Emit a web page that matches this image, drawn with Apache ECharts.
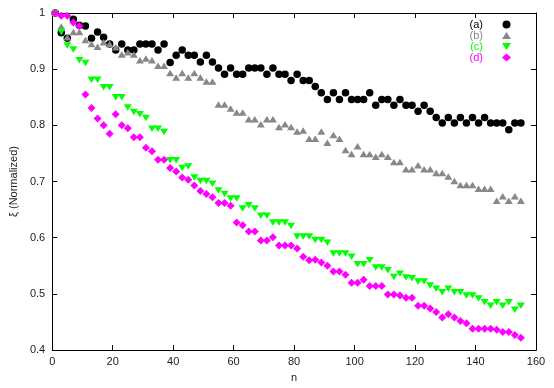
<!DOCTYPE html>
<html>
<head>
<meta charset="utf-8">
<script src="https://cdn.jsdelivr.net/npm/echarts@6/dist/echarts.min.js"></script>
<style>
  html, body { margin: 0; padding: 0; background: #fff; }
  #chart { width: 554px; height: 388px; }
</style>
</head>
<body>
<div id="chart"></div>
<script>
var nValues = [1, 3, 5, 7, 9, 11, 13, 15, 17, 19, 21, 23, 25, 27, 29, 31, 33, 35, 37, 39,
  41, 43, 45, 47, 49, 51, 53, 55, 57, 59, 61, 63, 65, 67, 69, 71, 73, 75, 77, 79,
  81, 83, 85, 87, 89, 91, 93, 95, 97, 99, 101, 103, 105, 107, 109, 111, 113, 115, 117, 119,
  121, 123, 125, 127, 129, 131, 133, 135, 137, 139, 141, 143, 145, 147, 149, 151, 153, 155];

var seriesA = [1.0, 0.965, 0.955, 0.989, 0.978, 0.977, 0.955, 0.966, 0.957, 0.945,
  0.934, 0.945, 0.934, 0.934, 0.945, 0.945, 0.945, 0.934, 0.945, 0.912,
  0.925, 0.934, 0.925, 0.925, 0.913, 0.925, 0.913, 0.902, 0.891, 0.902,
  0.891, 0.891, 0.902, 0.902, 0.902, 0.891, 0.902, 0.891, 0.891, 0.880,
  0.891, 0.880, 0.880, 0.869, 0.858, 0.846, 0.858, 0.846, 0.858, 0.846,
  0.846, 0.846, 0.858, 0.836, 0.846, 0.846, 0.836, 0.846, 0.836, 0.836,
  0.825, 0.836, 0.825, 0.814, 0.804, 0.814, 0.804, 0.814, 0.804, 0.814,
  0.804, 0.814, 0.804, 0.804, 0.804, 0.792, 0.804, 0.804];

var seriesB = [1.0, 0.976, 0.957, 0.966, 0.966, 0.952, 0.945, 0.940, 0.948, 0.945,
  0.939, 0.926, 0.930, 0.926, 0.916, 0.919, 0.916, 0.906, 0.906, 0.893,
  0.885, 0.893, 0.885, 0.893, 0.885, 0.878, 0.878, 0.837, 0.837, 0.830,
  0.823, 0.823, 0.811, 0.811, 0.802, 0.811, 0.811, 0.797, 0.802, 0.797,
  0.789, 0.791, 0.776, 0.776, 0.789, 0.769, 0.783, 0.776, 0.756, 0.749,
  0.763, 0.749, 0.749, 0.744, 0.749, 0.744, 0.735, 0.735, 0.722, 0.722,
  0.729, 0.722, 0.722, 0.715, 0.715, 0.709, 0.701, 0.694, 0.694, 0.694,
  0.687, 0.687, 0.687, 0.666, 0.674, 0.666, 0.674, 0.666];

var seriesC = [1.0, 0.966, 0.942, 0.935, 0.916, 0.911, 0.881, 0.881, 0.868, 0.868,
  0.850, 0.850, 0.832, 0.824, 0.820, 0.813, 0.794, 0.794, 0.788, 0.738,
  0.738, 0.724, 0.727, 0.707, 0.701, 0.701, 0.696, 0.684, 0.678, 0.670,
  0.670, 0.652, 0.658, 0.652, 0.639, 0.639, 0.627, 0.627, 0.627, 0.621,
  0.602, 0.602, 0.602, 0.596, 0.596, 0.591, 0.572, 0.572, 0.572, 0.566,
  0.553, 0.553, 0.560, 0.547, 0.547, 0.542, 0.530, 0.536, 0.529, 0.528,
  0.522, 0.522, 0.515, 0.509, 0.503, 0.509, 0.503, 0.503, 0.497, 0.497,
  0.492, 0.485, 0.479, 0.485, 0.479, 0.485, 0.472, 0.479];

var seriesD = [1.0, 0.995, 0.995, 0.983, 0.977, 0.855, 0.831, 0.812, 0.800, 0.785,
  0.820, 0.800, 0.795, 0.779, 0.779, 0.760, 0.754, 0.739, 0.739, 0.724,
  0.718, 0.707, 0.703, 0.693, 0.683, 0.678, 0.672, 0.662, 0.662, 0.657,
  0.627, 0.622, 0.611, 0.611, 0.595, 0.595, 0.601, 0.586, 0.586, 0.586,
  0.581, 0.566, 0.560, 0.561, 0.556, 0.550, 0.540, 0.540, 0.534, 0.520,
  0.520, 0.525, 0.514, 0.514, 0.514, 0.499, 0.499, 0.497, 0.493, 0.493,
  0.479, 0.479, 0.474, 0.468, 0.458, 0.464, 0.458, 0.452, 0.448, 0.438,
  0.438, 0.438, 0.438, 0.436, 0.432, 0.432, 0.427, 0.422];

var seriesNames = ['(a)', '(b)', '(c)', '(d)'];
var xTicks = [0, 20, 40, 60, 80, 100, 120, 140, 160];
var yTicks = [0.4, 0.5, 0.6, 0.7, 0.8, 0.9, 1];

var FONT = 'Liberation Sans';
var triDown = 'path://M0,0 L10,0 L5,8 Z';
var triUp = 'path://M5,0 L10,8 L0,8 Z';

function pairs(ys) {
  return nValues.map(function (n, i) { return [n, ys[i]]; });
}

var chart = echarts.init(document.getElementById('chart'), null, { renderer: 'canvas' });

var axisLine = { show: true, onZero: false, lineStyle: { color: '#000', width: 1 } };
var tick = { show: true, inside: true, length: 5, lineStyle: { color: '#000', width: 1 } };

chart.setOption({
  backgroundColor: '#fff',
  animation: false,
  grid: { left: 48, right: 18, top: 13, bottom: 32 },
  legend: {
    orient: 'vertical',
    right: 38,
    top: 14,
    align: 'right',
    itemWidth: 9,
    itemHeight: 8,
    itemGap: 0,
    textStyle: { fontFamily: FONT, fontSize: 11, lineHeight: 11, padding: [0, 14, 0, 0] },
    data: [
      { name: seriesNames[0], textStyle: { color: '#000' } },
      { name: seriesNames[1], textStyle: { color: '#888' } },
      { name: seriesNames[2], textStyle: { color: '#00ff00' } },
      { name: seriesNames[3], textStyle: { color: '#ff00ff' } }
    ]
  },
  xAxis: [{
    type: 'value', min: xTicks[0], max: xTicks[xTicks.length - 1], interval: 20,
    name: 'n', nameLocation: 'middle', nameGap: 17,
    nameTextStyle: { fontFamily: FONT, fontSize: 11, color: '#222' },
    axisLine: axisLine, axisTick: tick, splitLine: { show: false },
    axisLabel: { margin: 6, fontFamily: FONT, fontSize: 11, color: '#222' }
  }, {
    type: 'value', position: 'top', min: xTicks[0], max: xTicks[xTicks.length - 1], interval: 20,
    axisLine: axisLine, axisTick: tick, splitLine: { show: false }, axisLabel: { show: false }
  }],
  yAxis: [{
    type: 'value', min: yTicks[0], max: yTicks[yTicks.length - 1], interval: 0.1,
    name: 'ξ (Normalized)', nameLocation: 'middle', nameGap: 33,
    nameTextStyle: { fontFamily: FONT, fontSize: 11, color: '#222' },
    axisLine: axisLine, axisTick: tick, splitLine: { show: false },
    axisLabel: {
      margin: 7, fontFamily: FONT, fontSize: 11, color: '#222',
      formatter: function (v) { return String(Math.round(v * 10) / 10); }
    }
  }, {
    type: 'value', position: 'right', min: yTicks[0], max: yTicks[yTicks.length - 1], interval: 0.1,
    axisLine: axisLine, axisTick: tick, splitLine: { show: false }, axisLabel: { show: false }
  }],
  series: [
    { name: seriesNames[0], type: 'scatter', symbol: 'circle', symbolSize: 7.5,
      itemStyle: { color: '#000', opacity: 1 }, data: pairs(seriesA) },
    { name: seriesNames[1], type: 'scatter', symbol: triUp, symbolSize: [8, 6.5],
      itemStyle: { color: '#888', opacity: 1 }, data: pairs(seriesB) },
    { name: seriesNames[2], type: 'scatter', symbol: triDown, symbolSize: [8, 6.5],
      itemStyle: { color: '#00ff00', opacity: 1 }, data: pairs(seriesC) },
    { name: seriesNames[3], type: 'scatter', symbol: 'diamond', symbolSize: 8,
      itemStyle: { color: '#ff00ff', opacity: 1 }, data: pairs(seriesD) }
  ]
});
</script>
</body>
</html>
